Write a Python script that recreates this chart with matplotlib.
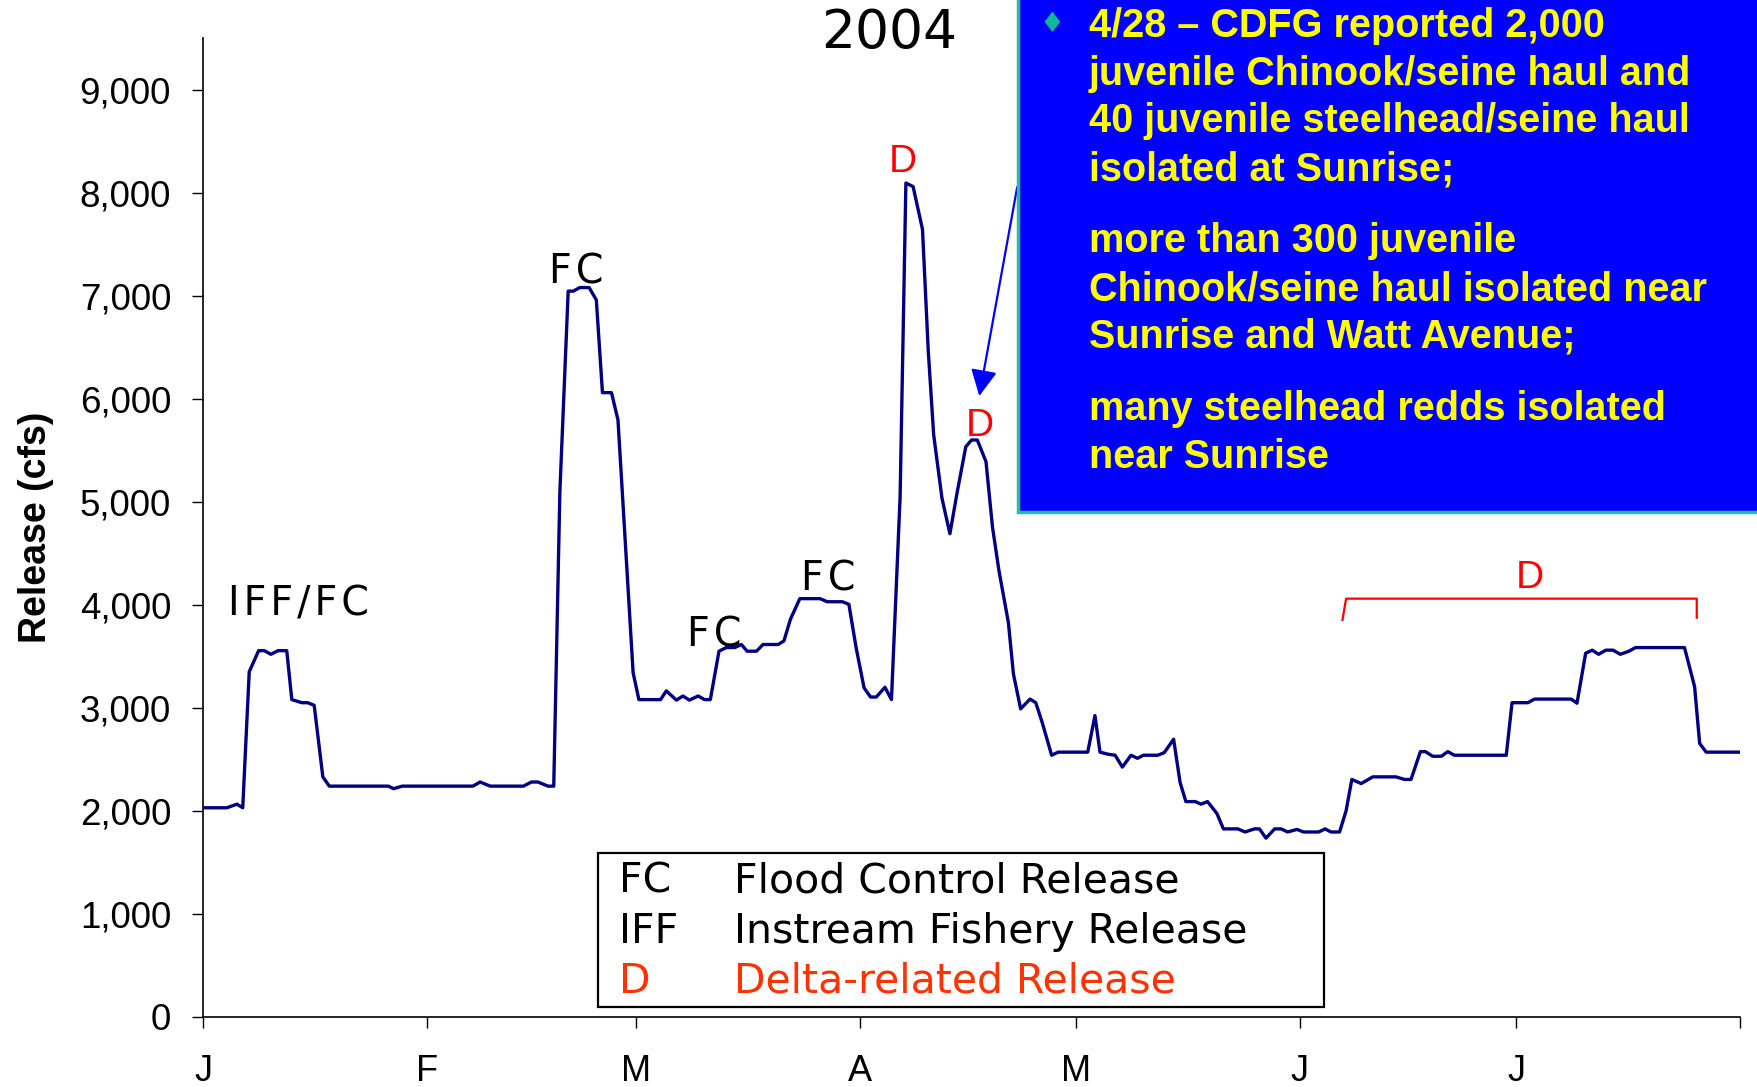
import numpy as np
import matplotlib
matplotlib.use('Agg')
import matplotlib.pyplot as plt
from matplotlib.patches import Rectangle
from matplotlib.ticker import FuncFormatter

# daily release, 2004 (x = days since Jan 1, y = cfs)
day = [0.0, 3.3, 4.7, 5.5, 6.4, 7.7, 8.5, 9.4, 10.4, 11.6, 12.3, 13.7, 14.5, 15.4, 16.6, 17.5,
       25.7, 26.4, 27.6, 37.4, 38.4, 39.8, 44.4, 45.5, 46.4, 47.8, 48.6,
       49.45, 50.6, 51.3, 52.2, 53.5, 54.5, 55.35, 56.6, 57.5, 59.6, 60.4, 63.4, 64.2, 65.6,
       66.5, 67.4, 68.6, 69.5, 70.3,
       71.5, 72.5, 73.7, 74.6, 75.4, 76.7, 77.6, 79.7, 80.5, 81.4, 82.7, 85.5, 86.5, 88.6,
       89.5, 90.5, 91.6, 92.5, 93.3, 94.5, 95.4,
       96.6, 97.4, 98.4, 99.7, 100.5, 101.25, 102.4, 103.5, 104.5, 105.7, 106.5, 107.3, 108.5,
       109.4, 110.3, 111.6, 112.3, 113.3, 114.6, 115.4, 116.3, 117.6, 118.5, 122.6, 123.6,
       124.3, 125.4, 126.4, 127.4, 128.6, 129.5, 130.3, 132.3, 133.2, 134.5, 135.4, 136.2,
       137.5, 138.3, 139.2, 140.5, 141.4, 143.4, 144.4, 145.7, 146.4, 147.3, 148.5, 149.4,
       150.3, 151.6, 152.5, 154.6, 155.5, 156.3, 157.5,
       158.4, 159.2, 160.5, 162.1, 165.3, 166.5, 167.4, 168.7, 169.4, 170.4, 171.6, 172.5,
       173.4, 180.6, 181.4, 183.6, 184.5, 189.6, 190.4, 191.6, 192.5, 193.4, 194.4, 195.4,
       196.4, 197.6, 198.5, 205.3, 206.7, 207.4, 208.3, 213.0]
cfs = [2030, 2030, 2065, 2030, 3350, 3555, 3555, 3520, 3555, 3555, 3080, 3050, 3050, 3025, 2330, 2240,
       2240, 2215, 2240, 2240, 2280, 2240, 2240, 2280, 2280, 2240, 2240,
       5100, 7045, 7045, 7080, 7080, 6960, 6060, 6060, 5795, 3340, 3080, 3080, 3165, 3075,
       3115, 3075, 3115, 3080, 3080,
       3550, 3585, 3585, 3615, 3550, 3550, 3615, 3615, 3650, 3860, 4060, 4060, 4030, 4030,
       4005, 3585, 3195, 3105, 3105, 3200, 3080,
       5050, 8095, 8060, 7645, 6465, 5650, 5035, 4690, 5090, 5535, 5600, 5600, 5390,
       4755, 4330, 3830, 3330, 2990, 3085, 3050, 2855, 2540, 2570, 2570, 2925,
       2570, 2550, 2540, 2425, 2540, 2510, 2540, 2540, 2565, 2695, 2275, 2090,
       2090, 2065, 2090, 1975, 1825, 1825, 1795, 1825, 1825, 1735, 1825, 1825,
       1795, 1820, 1795, 1795, 1825, 1795, 1795,
       2000, 2305, 2265, 2330, 2330, 2305, 2305, 2575, 2575, 2530, 2530, 2575,
       2540, 2540, 3050, 3050, 3085, 3085, 3045, 3530, 3560, 3520, 3560, 3560,
       3520, 3550, 3585, 3585, 3205, 2655, 2570, 2570]

month_starts = [0, 31, 60, 91, 121, 152, 182, 213]
month_labels = ['J', 'F', 'M', 'A', 'M', 'J', 'J', '']

# release-type labels on the chart
release_labels = [('FC', 51.7, 7230), ('FC', 70.8, 3705), ('FC', 86.6, 4250)]
delta_labels = [('D', 97.0, 8300), ('D', 107.6, 5740), ('D', 183.9, 4260)]

legend_rows = [('FC', 'Flood Control Release', 'black'),
               ('IFF', 'Instream Fishery Release', 'black'),
               ('D', 'Delta-related Release', '#FF3300')]
legend_y = [1310, 822, 343]

note_lines = ['4/28 \u2013 CDFG reported 2,000',
              'juvenile Chinook/seine haul and',
              '40 juvenile steelhead/seine haul',
              'isolated at Sunrise;',
              'more than 300 juvenile',
              'Chinook/seine haul isolated near',
              'Sunrise and Watt Avenue;',
              'many steelhead redds isolated',
              'near Sunrise']
note_y = [0.9764, 0.9320, 0.8887, 0.8444, 0.7783, 0.7340, 0.6907, 0.6236, 0.5792]

sp = '\u200a'  # hair space, the chart labels are letter-spaced

fig = plt.figure(figsize=(17.58, 10.87), dpi=100)
ax = fig.add_axes([0.1155, 0.0645, 0.8743, 0.9003])

ax.plot(day, cfs, color='#000080', lw=2.4, zorder=3)

ax.set_xlim(0, 213)
ax.set_ylim(0, 9500)
ax.set_xticks(month_starts)
ax.set_xticklabels(month_labels, fontsize=26, family='Liberation Sans')
ax.set_yticks(np.arange(0, 9001, 1000))
ax.yaxis.set_major_formatter(FuncFormatter(lambda v, p: f'{int(v):,}'))
for lab in ax.get_yticklabels():
    lab.set_fontsize(26.5)
    lab.set_family('Liberation Sans')
ax.tick_params(axis='y', length=8, width=1, pad=15)
ax.tick_params(axis='x', length=8, width=1, pad=19)
for s in ['top', 'right']:
    ax.spines[s].set_visible(False)
for s in ['left', 'bottom']:
    ax.spines[s].set_linewidth(1.2)

ax.set_ylabel('Release (cfs)', fontsize=27, fontweight='bold', family='Liberation Sans')
ax.yaxis.set_label_coords(-0.097, 0.5)

fig.text(0.5057, 0.970, '2004', fontsize=38.5, family='DejaVu Sans', ha='center', va='center')

# chart labels
ax.text(3.4, 4000, sp.join('IFF/FC'), fontsize=28.5, family='DejaVu Sans', ha='left', va='center')
for txt, x, y in release_labels:
    ax.text(x, y, sp.join(txt), fontsize=28.5, family='DejaVu Sans', ha='center', va='center')
for txt, x, y in delta_labels:
    ax.text(x, y, txt, fontsize=28, family='Liberation Sans', color='red', ha='center', va='center')

# bracket for the summer delta release
ax.plot([157.9, 158.4, 207.0, 207.0], [3853, 4060, 4060, 3875], color='red', lw=1.6)

# legend box
ax.add_patch(Rectangle((54.7, 92), 100.6, 1502, facecolor='white', edgecolor='black', lw=1.6, zorder=4))
for (code, desc, c), y in zip(legend_rows, legend_y):
    ax.text(57.6, y, code, fontsize=29.5, family='DejaVu Sans', color=c, va='center', zorder=5)
    ax.text(73.6, y, desc, fontsize=29.5, family='DejaVu Sans', color=c, va='center', zorder=5)

# note box in the upper right
fig.patches.append(Rectangle((0.579, 0.529), 0.5, 0.5, transform=fig.transFigure,
                             facecolor='#0000FF', edgecolor='#20C0A0', lw=2.5, zorder=5))
fig.text(0.5982, 0.978, '\u2666', fontsize=20, family='DejaVu Sans', color='#10B89A',
         ha='center', va='center', zorder=6)
for line, y in zip(note_lines, note_y):
    fig.text(0.6193, y, line, fontsize=28.5, family='Liberation Sans', fontweight='bold',
             color='#FFFF00', ha='left', va='center', zorder=6)

ax.annotate('', xy=(107.5, 6000), xytext=(112.9, 8083),
            arrowprops=dict(arrowstyle='-|>', color='#0000FF', lw=1.6, mutation_scale=40),
            annotation_clip=False, zorder=6)

fig.savefig('out.png', dpi=100)
